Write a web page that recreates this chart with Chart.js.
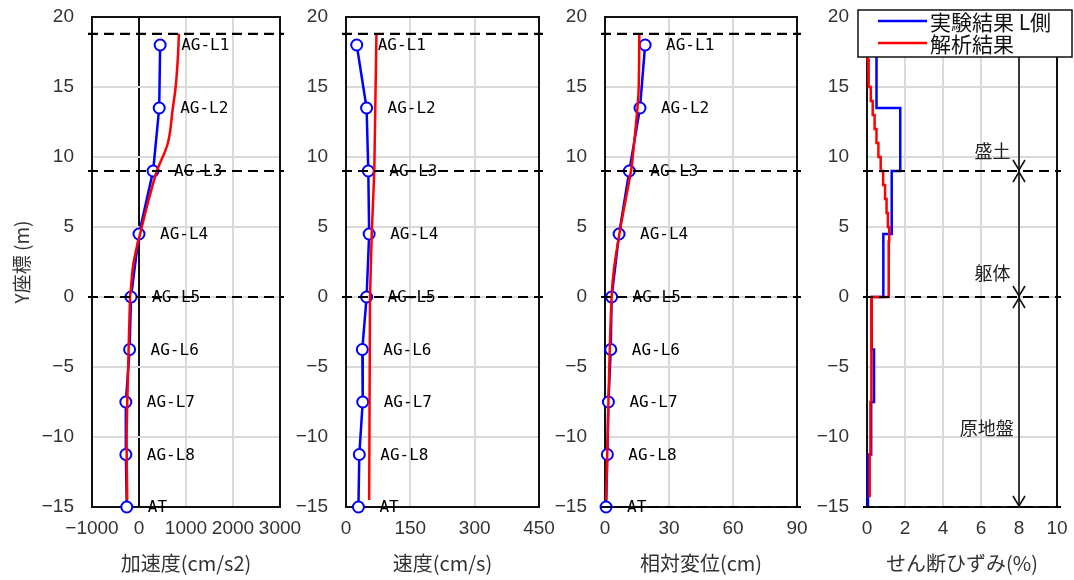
<!DOCTYPE html>
<html>
<head>
<meta charset="utf-8">
<script src="https://cdn.jsdelivr.net/npm/chart.js@4"></script>
<style>
body { margin: 0; background: #fff; width: 1074px; height: 580px; overflow: hidden; position: relative; }
.panel { position: absolute; top: 0; height: 580px; }
</style>
</head>
<body>
<div class="panel" style="left:0;width:320px"><canvas id="accChart"></canvas></div>
<div class="panel" style="left:280px;width:280px"><canvas id="velChart"></canvas></div>
<div class="panel" style="left:540px;width:280px"><canvas id="dispChart"></canvas></div>
<div class="panel" style="left:800px;width:274px"><canvas id="strainChart"></canvas></div>
<script>
// gauges (depth in m)
const gaugeNames = ['AG-L1', 'AG-L2', 'AG-L3', 'AG-L4', 'AG-L5', 'AG-L6', 'AG-L7', 'AG-L8', 'AT'];
const gaugeDepth = [18, 13.5, 9, 4.5, 0, -3.75, -7.5, -11.25, -15];
const seriesNames = ['実験結果 L側', '解析結果'];

// acceleration (cm/s2)
const accTest = [450, 430, 300, 0, -170, -200, -280, -280, -260];
const accCalcDepth = [18.8, 17, 15, 13.5, 11, 9, 7, 5, 3, 2, 0.5, 0, -5, -10, -14.5];
const accCalc = [850, 825, 780, 720, 615, 380, 210, 60, -85, -135, -175, -190, -230, -262, -250];

// velocity (cm/s)
const velTest = [25, 48, 52, 54, 48, 38, 39, 31, 29];
const velCalcDepth = [18.8, 9, 4.5, 0, -14.5];
const velCalc = [71, 66, 60, 56, 54];

// relative displacement (cm)
const dispTest = [18.8, 16.4, 11.4, 6.6, 3.1, 2.7, 1.6, 1.1, 0.5];
const dispCalcDepth = [18.8, 15, 13.5, 10, 9, 5, 2, 0, -5, -10, -14.5];
const dispCalc = [16.1, 15.8, 15.2, 13.0, 12.2, 7.3, 4.2, 3.1, 2.0, 1.25, 0.5];

// shear strain (%), one value per layer between depths
const strainTest = [0.5, 1.75, 1.3, 0.86, 0.25, 0.37, 0.22, 0.05];
const strainCalcDepth = [18.8, 18, 17, 16, 15, 14, 13, 12, 11, 10, 9, 8, 7, 6, 5, 4, 3, 2, 1, 0, -3.75, -7.5, -11.25, -14.3];
const strainCalc = [0.0, 0.03, 0.06, 0.1, 0.2, 0.3, 0.4, 0.5, 0.6, 0.72, 0.85, 0.95, 1.03, 1.1, 1.17, 1.15, 1.13, 1.14, 1.15, 0.25, 0.22, 0.18, 0.14];

// layer boundaries
const layerBounds = [18.8, 9, 0, -15];
const layerNames = ['盛土', '躯体', '原地盤'];

const tickFont = { family: '"Liberation Sans", Arial, sans-serif', size: 19 };
const jpFont = '"Noto Sans CJK JP", "Noto Sans", sans-serif';
const textColor = '#333';

function pts(xs, ys) {
    return ys.map((y, i) => ({ x: xs[i], y: y }));
}

function stepPts(values, depths) {
    const out = [];
    values.forEach((v, i) => {
        out.push({ x: v, y: depths[i] }, { x: v, y: depths[i + 1] });
    });
    return out;
}

function testSet(data, withPoints) {
    return {
        data: data, showLine: true, borderColor: '#0000ff', borderWidth: 2.5,
        pointRadius: withPoints ? 5.5 : 0, pointBorderWidth: 2,
        pointBackgroundColor: '#fff', pointBorderColor: '#0000ff', clip: false
    };
}

function calcSet(data, tension) {
    return {
        data: data, showLine: true, borderColor: '#ff0000', borderWidth: 2.5,
        pointRadius: 0, clip: false, tension: tension || 0
    };
}

const panelDecor = {
    id: 'panelDecor',
    beforeDatasetsDraw(chart) {
        const { ctx, chartArea: a } = chart;
        ctx.save();
        ctx.strokeStyle = '#111';
        ctx.lineWidth = 2;
        ctx.strokeRect(a.left, a.top, a.right - a.left, a.bottom - a.top);
        ctx.restore();
    },
    afterDatasetsDraw(chart, args, opts) {
        const { ctx, chartArea: a, scales } = chart;
        ctx.save();
        // gauge names next to the measured points
        if (opts.names) {
            const meta = chart.getDatasetMeta(opts.labelDataset);
            ctx.font = '16px "DejaVu Sans Mono", monospace';
            ctx.fillStyle = '#000';
            ctx.textBaseline = 'middle';
            ctx.textAlign = 'left';
            opts.names.forEach((n, i) => {
                const p = meta.data[i];
                ctx.fillText(n, p.x + 21, p.y + 1);
            });
        }
        // dashed layer boundaries
        ctx.strokeStyle = '#000';
        ctx.lineWidth = 2.2;
        ctx.setLineDash([10, 6]);
        opts.levels.forEach(v => {
            const y = scales.y.getPixelForValue(v);
            ctx.beginPath();
            ctx.moveTo(a.left - 4, y);
            ctx.lineTo(a.right + 4, y);
            ctx.stroke();
        });
        ctx.setLineDash([]);
        // layer arrows
        if (opts.zones) {
            const x = scales.x.getPixelForValue(opts.zones.x);
            const b = layerBounds.map(v => scales.y.getPixelForValue(v));
            ctx.lineWidth = 1.6;
            ctx.strokeStyle = '#111';
            ctx.beginPath();
            ctx.moveTo(x, b[0]);
            ctx.lineTo(x, b[b.length - 1]);
            ctx.stroke();
            const head = (ty, dir) => {
                ctx.beginPath();
                ctx.moveTo(x - 6, ty - dir * 10);
                ctx.lineTo(x, ty);
                ctx.lineTo(x + 6, ty - dir * 10);
                ctx.stroke();
            };
            for (let i = 0; i < b.length - 1; i++) {
                head(b[i] + 1, -1);
                head(b[i + 1] - 1, 1);
            }
            ctx.font = '18px ' + jpFont;
            ctx.fillStyle = '#222';
            ctx.textAlign = 'center';
            ctx.textBaseline = 'middle';
            layerNames.forEach((n, i) => {
                const p = opts.zones.labelPos[i];
                ctx.fillText(n, scales.x.getPixelForValue(p.x), scales.y.getPixelForValue(p.y));
            });
        }
        ctx.restore();
    },
    afterDraw(chart, args, opts) {
        if (!opts.legend) return;
        const { ctx, chartArea: a } = chart;
        const x0 = a.left - 9, y0 = 10, w = 214, h = 47;
        ctx.save();
        ctx.fillStyle = '#fff';
        ctx.fillRect(x0, y0, w, h);
        ctx.strokeStyle = '#111';
        ctx.lineWidth = 1.5;
        ctx.strokeRect(x0, y0, w, h);
        const colors = ['#0000ff', '#ff0000'];
        ctx.font = '21px ' + jpFont;
        ctx.textBaseline = 'middle';
        ctx.textAlign = 'left';
        seriesNames.forEach((n, i) => {
            const y = y0 + 11 + i * 22;
            ctx.strokeStyle = colors[i];
            ctx.lineWidth = 2.5;
            ctx.beginPath();
            ctx.moveTo(x0 + 20, y);
            ctx.lineTo(x0 + 69, y);
            ctx.stroke();
            ctx.fillStyle = '#111';
            ctx.fillText(n, x0 + 72, y + 1);
        });
        ctx.restore();
    }
};

function makePanel(id, cfg) {
    return new Chart(document.getElementById(id), {
        type: 'scatter',
        data: { datasets: cfg.datasets },
        options: {
            responsive: true,
            maintainAspectRatio: false,
            animation: false,
            layout: { padding: { left: 0, right: cfg.padRight, top: 17, bottom: 0 } },
            plugins: {
                legend: { display: false },
                tooltip: { enabled: false },
                panelDecor: cfg.decor
            },
            scales: {
                x: {
                    type: 'linear', min: cfg.xMin, max: cfg.xMax,
                    ticks: {
                        stepSize: cfg.xStep, autoSkip: false, maxRotation: 0, padding: 0,
                        font: tickFont, color: textColor,
                        callback: v => String(v).replace('-', '\u2212')
                    },
                    grid: {
                        drawTicks: true, tickLength: 10, tickColor: 'rgba(0,0,0,0)', lineWidth: 2,
                        color: c => (c.tick && c.tick.value === 0 ? '#111' : '#dadada')
                    },
                    border: { display: false },
                    title: {
                        display: true, text: cfg.xTitle, color: '#333',
                        font: { family: jpFont, size: 20 }, padding: { top: 0, bottom: 5 }
                    },
                    afterFit: s => { s.height = 73; }
                },
                y: {
                    type: 'linear', min: -15, max: 20,
                    ticks: {
                        stepSize: 5, padding: 0, font: tickFont, color: textColor,
                        callback: v => String(v).replace('-', '\u2212')
                    },
                    grid: { drawTicks: true, tickLength: 18, tickColor: 'rgba(0,0,0,0)', lineWidth: 2, color: '#dadada' },
                    border: { display: false },
                    title: {
                        display: !!cfg.yTitle, text: cfg.yTitle || '', color: '#333',
                        font: { family: jpFont, size: 19 }, padding: { top: 10, bottom: 0 }
                    },
                    afterFit: s => { s.width = cfg.yWidth; }
                }
            }
        },
        plugins: [panelDecor]
    });
}

makePanel('accChart', {
    yWidth: 92, padRight: 40, xMin: -1000, xMax: 3000, xStep: 1000,
    xTitle: '加速度(cm/s2)', yTitle: 'Y座標 (m)',
    datasets: [calcSet(pts(accCalc, accCalcDepth), 0.35), testSet(pts(accTest, gaugeDepth), true)],
    decor: { names: gaugeNames, labelDataset: 1, levels: [18.8, 9, 0] }
});

makePanel('velChart', {
    yWidth: 66, padRight: 21, xMin: 0, xMax: 450, xStep: 150,
    xTitle: '速度(cm/s)',
    datasets: [calcSet(pts(velCalc, velCalcDepth)), testSet(pts(velTest, gaugeDepth), true)],
    decor: { names: gaugeNames, labelDataset: 1, levels: [18.8, 9, 0] }
});

makePanel('dispChart', {
    yWidth: 65, padRight: 23, xMin: 0, xMax: 90, xStep: 30,
    xTitle: '相対変位(cm)',
    datasets: [calcSet(pts(dispCalc, dispCalcDepth), 0.3), testSet(pts(dispTest, gaugeDepth), true)],
    decor: { names: gaugeNames, labelDataset: 1, levels: [18.8, 9, 0, -15] }
});

makePanel('strainChart', {
    yWidth: 67, padRight: 17, xMin: 0, xMax: 10, xStep: 2,
    xTitle: 'せん断ひずみ(%)',
    datasets: [calcSet(stepPts(strainCalc, strainCalcDepth)), testSet(stepPts(strainTest, gaugeDepth), false)],
    decor: {
        levels: [9, 0, -15], legend: true,
        zones: { x: 8, labelPos: [{ x: 6.6, y: 10.4 }, { x: 6.6, y: 1.7 }, { x: 6.3, y: -9.4 }] }
    }
});
</script>
</body>
</html>
